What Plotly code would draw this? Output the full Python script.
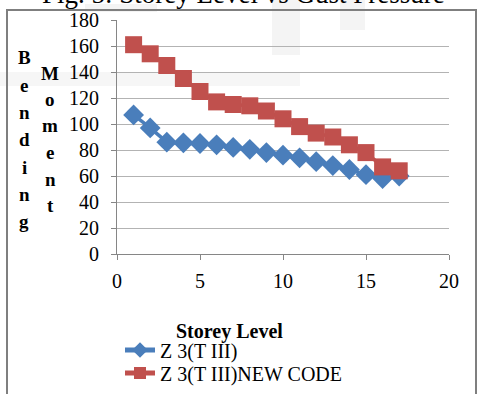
import plotly.graph_objects as go

storey = list(range(1, 18))
z3_old = [107, 97, 86, 85.5, 85, 84, 82, 80.5, 78, 76, 74, 71, 68, 65, 61, 58, 60]
z3_new = [161, 154, 145, 135, 125, 117, 115, 114, 110, 104, 98, 93, 90, 84, 78, 67, 64]
name_old = "Z 3(T III)"
name_new = "Z 3(T III)NEW CODE"
y_ticks = list(range(0, 181, 20))
x_ticks = list(range(0, 21, 5))

SERIF = "Liberation Serif"
BLUE = "#4A7EBB"
RED = "#C0504D"

W, H = 478, 394
L, R, T, B = 117, 29, 20, 140
pw, ph = W - L - R, H - T - B


def px(x):
    return (x - L) / pw


def py(y):
    return (H - B - y) / ph


fig = go.Figure()
fig.add_trace(go.Scatter(x=storey, y=z3_old, name=name_old, mode="lines+markers",
                         line=dict(color=BLUE, width=3.5),
                         marker=dict(symbol="diamond", size=16, color=BLUE),
                         legend="legend"))
fig.add_trace(go.Scatter(x=storey, y=z3_new, name=name_new, mode="lines+markers",
                         line=dict(color=RED, width=3.5),
                         marker=dict(symbol="square", size=17, color=RED),
                         legend="legend2"))

annotations = [
    dict(text="Fig. 5: Storey Level vs Gust Pressure", x=px(243), y=py(-6), xref="paper", yref="paper",
         showarrow=False, font=dict(family=SERIF, size=27, color="black"), yanchor="middle"),
    dict(text="<b>Storey Level</b>", x=px(229), y=py(331), xref="paper", yref="paper",
         showarrow=False, font=dict(family=SERIF, size=20, color="black"), yanchor="middle"),
]
for i, ch in enumerate("Bending"):
    annotations.append(dict(text="<b>%s</b>" % ch, x=px(24), y=py(58 + i * 27.3), xref="paper", yref="paper",
                            showarrow=False, font=dict(family=SERIF, size=19, color="black"),
                            xanchor="center", yanchor="middle"))
for i, ch in enumerate("Moment"):
    annotations.append(dict(text="<b>%s</b>" % ch, x=px(50), y=py(73 + i * 26.5), xref="paper", yref="paper",
                            showarrow=False, font=dict(family=SERIF, size=19, color="black"),
                            xanchor="center", yanchor="middle"))

band = "rgba(0,0,0,0.045)"
shapes = [
    dict(type="rect", xref="paper", yref="paper", x0=px(85), x1=px(157), y0=py(4), y1=py(12),
         fillcolor=band, line=dict(width=0), layer="below"),
    dict(type="rect", xref="paper", yref="paper", x0=px(272), x1=px(300), y0=py(0), y1=py(55),
         fillcolor=band, line=dict(width=0), layer="below"),
    dict(type="rect", xref="paper", yref="paper", x0=px(340), x1=px(365), y0=py(0), y1=py(30),
         fillcolor=band, line=dict(width=0), layer="below"),
    dict(type="rect", xref="paper", yref="paper", x0=px(0), x1=px(300), y0=py(72), y1=py(86),
         fillcolor="rgba(0,0,0,0.035)", line=dict(width=0), layer="below"),
    dict(type="rect", xref="paper", yref="paper", x0=px(7), x1=px(476), y0=py(10), y1=py(420),
         fillcolor="rgba(0,0,0,0)", line=dict(color="#7f7f7f", width=2), layer="above"),
]

leg_common = dict(xanchor="left", yanchor="middle", font=dict(family=SERIF, size=20, color="black"),
                  bgcolor="rgba(0,0,0,0)", itemsizing="constant")

fig.update_layout(
    width=W, height=H,
    margin=dict(l=L, r=R, t=T, b=B, autoexpand=False),
    paper_bgcolor="white", plot_bgcolor="white",
    font=dict(family=SERIF, size=20, color="black"),
    showlegend=True,
    legend=dict(x=px(120), y=py(350), **leg_common),
    legend2=dict(x=px(120), y=py(373), **leg_common),
    annotations=annotations,
    shapes=shapes,
)
fig.update_xaxes(range=[0, 20], tickvals=x_ticks, showgrid=False, zeroline=False,
                 showline=True, linecolor="#868686", linewidth=1,
                 ticks="outside", ticklen=5, tickcolor="#868686",
                 ticklabelstandoff=4,
                 tickfont=dict(family=SERIF, size=20))
fig.update_yaxes(range=[0, 180], tickvals=y_ticks, showgrid=True, gridcolor="#B3B3B3", gridwidth=1.3,
                 zeroline=False, showline=True, linecolor="#868686", linewidth=1,
                 ticks="outside", ticklen=5, tickcolor="#868686",
                 ticklabelstandoff=8,
                 tickfont=dict(family=SERIF, size=20))

fig.write_html("out.html")
